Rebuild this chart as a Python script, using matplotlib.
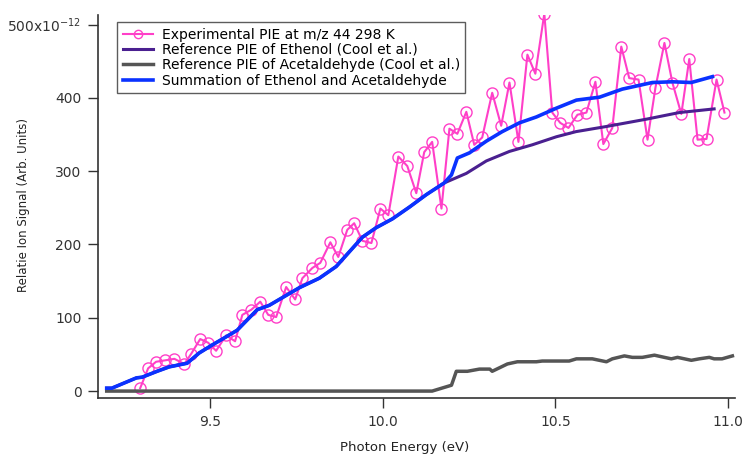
import matplotlib.pyplot as plt
from matplotlib.ticker import FuncFormatter

# experimental PIE, m/z 44 at 298 K
exp_E = [9.297, 9.320, 9.343, 9.370, 9.396, 9.425, 9.445, 9.471, 9.494, 9.517,
         9.546, 9.572, 9.593, 9.619, 9.645, 9.668, 9.691, 9.720, 9.746, 9.767,
         9.796, 9.819, 9.848, 9.871, 9.897, 9.917, 9.941, 9.967, 9.993, 10.016,
         10.045, 10.071, 10.097, 10.120, 10.143, 10.170, 10.193, 10.216, 10.242, 10.265,
         10.288, 10.317, 10.343, 10.367, 10.393, 10.419, 10.442, 10.468, 10.491, 10.514,
         10.538, 10.564, 10.590, 10.616, 10.639, 10.665, 10.691, 10.714, 10.741, 10.767,
         10.790, 10.816, 10.839, 10.865, 10.888, 10.912, 10.938, 10.967, 10.990]
exp_S = [4, 31, 40, 42, 44, 37, 51, 71, 66, 55,
         76, 68, 104, 111, 122, 104, 101, 142, 125, 154,
         168, 175, 203, 183, 220, 229, 205, 202, 249, 240,
         320, 307, 270, 326, 340, 249, 358, 351, 381, 336,
         346, 407, 362, 421, 340, 459, 433, 515, 380, 366,
         359, 377, 380, 422, 337, 359, 470, 427, 425, 343,
         414, 475, 421, 378, 453, 343, 344, 425, 380]

# reference PIE of ethenol
eth_E = [9.200, 9.215, 9.286, 9.303, 9.346, 9.381, 9.433, 9.468, 9.506, 9.546,
         9.578, 9.607, 9.636, 9.671, 9.700, 9.758, 9.816, 9.865, 9.903, 9.941,
         9.981, 10.028, 10.077, 10.126, 10.178, 10.242, 10.300, 10.367, 10.433, 10.503,
         10.560, 10.648, 10.764, 10.859, 10.960]
eth_S = [4, 4, 18, 19, 27, 33, 38, 52, 63, 74,
         83, 97, 111, 117, 125, 141, 154, 170, 190, 210,
         223, 235, 251, 268, 284, 297, 314, 327, 336, 347,
         354, 361, 371, 380, 385]

# reference PIE of acetaldehyde
ace_E = [9.200, 10.143, 10.199, 10.213, 10.245, 10.280, 10.310, 10.317, 10.361, 10.390,
         10.445, 10.462, 10.540, 10.561, 10.607, 10.648, 10.665, 10.700, 10.723, 10.752,
         10.787, 10.816, 10.836, 10.854, 10.894, 10.917, 10.946, 10.960, 10.983, 11.013]
ace_S = [0, 0, 8, 27, 27, 30, 30, 27, 37, 40,
         40, 41, 41, 44, 44, 40, 44, 48, 46, 46,
         49, 46, 44, 46, 42, 44, 46, 44, 44, 48]

# ethenol + acetaldehyde
sum_E = [9.200, 9.215, 9.286, 9.303, 9.346, 9.381, 9.433, 9.468, 9.506, 9.546,
         9.578, 9.607, 9.636, 9.671, 9.700, 9.758, 9.816, 9.865, 9.903, 9.941,
         9.981, 10.028, 10.077, 10.126, 10.178, 10.199, 10.216, 10.251, 10.300, 10.346,
         10.396, 10.445, 10.503, 10.561, 10.628, 10.694, 10.781, 10.839, 10.894, 10.955]
sum_S = [4, 4, 18, 19, 27, 33, 38, 52, 63, 74,
         83, 97, 111, 117, 125, 141, 154, 170, 190, 210,
         223, 235, 251, 268, 284, 295, 318, 325, 341, 354,
         366, 374, 386, 397, 401, 412, 421, 422, 421, 429]

fig = plt.figure(figsize=(7.43, 4.57), dpi=100)
ax = fig.add_axes([0.132, 0.129, 0.857, 0.838])

ax.plot(exp_E, exp_S, color='#ff3fc8', lw=1.5, marker='o', ms=8,
        mfc='none', mec='#ff3fc8', mew=1.0,
        label='Experimental PIE at m/z 44 298 K')
ax.plot(eth_E, eth_S, color='#4a2090', lw=2.2, label='Reference PIE of Ethenol (Cool et al.)')
ax.plot(ace_E, ace_S, color='#555555', lw=2.5, label='Reference PIE of Acetaldehyde (Cool et al.)')
ax.plot(sum_E, sum_S, color='#0a32ff', lw=2.6, label='Summation of Ethenol and Acetaldehyde')

ax.set_xlim(9.175, 11.02)
ax.set_ylim(-9.5, 513)
ax.set_xticks([9.5, 10.0, 10.5, 11.0])
ax.set_yticks([0, 100, 200, 300, 400, 500])
ax.xaxis.set_major_formatter(FuncFormatter(lambda v, p: '%.1f' % v))
ax.yaxis.set_major_formatter(FuncFormatter(
    lambda v, p: r'500x10$^{-12}$' if v == 500 else '%d' % v))

for s in ['top', 'right']:
    ax.spines[s].set_visible(False)
for s in ['left', 'bottom']:
    ax.spines[s].set_color('#333333')
    ax.spines[s].set_linewidth(1.2)
ax.tick_params(direction='out', length=7, width=1, colors='#333333',
               labelsize=10, pad=5)

ax.set_xlabel('Photon Energy (eV)', fontsize=9.5, color='#222222')
ax.set_ylabel('Relatie Ion Signal (Arb. Units)', fontsize=8.5, color='#222222')
ax.xaxis.set_label_coords(0.482, -0.112)
ax.yaxis.set_label_coords(-0.107, 0.504)

leg = ax.legend(loc='upper left', bbox_to_anchor=(0.030, 0.982), borderaxespad=0,
                fontsize=10, frameon=True, fancybox=False, edgecolor='#333333',
                handlelength=2.2, labelspacing=0.1, borderpad=0.4,
                handletextpad=0.6, markerscale=0.75)
leg.get_frame().set_linewidth(1.0)

fig.savefig('out.png', dpi=100)
